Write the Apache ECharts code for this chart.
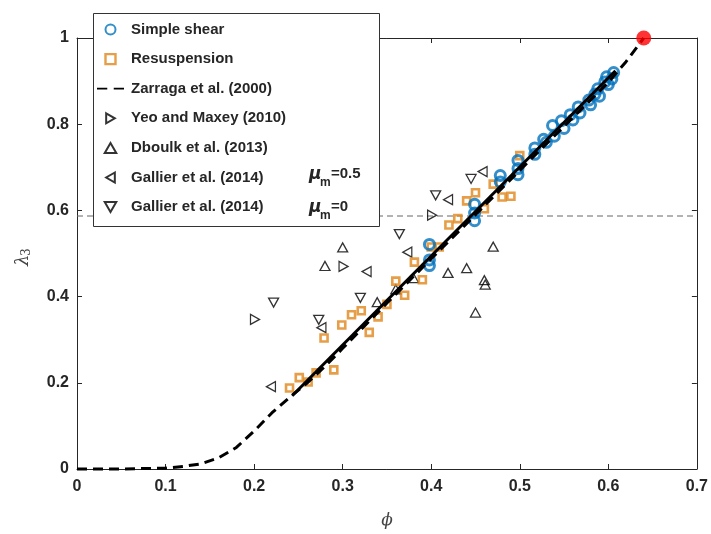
<!DOCTYPE html>
<html><head><meta charset="utf-8">
<script src="https://cdn.jsdelivr.net/npm/echarts@6/dist/echarts.min.js"></script>
<style>html,body{margin:0;padding:0;background:#fff}#c{width:711px;height:534px}</style>
</head><body><div id="c"></div>
<script>
// ---- data ----
const xTickMin = 0, xTickMax = 0.7, xTickStep = 0.1;
const yTickMin = 0, yTickMax = 1, yTickStep = 0.2;

const seriesNames = ['Simple shear','Resuspension','Zarraga et al. (2000)','Yeo and Maxey (2010)','Dboulk et al. (2013)','Gallier et al. (2014)','Gallier et al. (2014) '];

const shearPhi = [0.398,0.398,0.398,0.449,0.449,0.449,0.478,0.478,0.498,0.498,0.498,0.517,0.517,0.527,0.530,0.537,0.539,0.547,0.550,0.557,0.560,0.566,0.568,0.578,0.580,0.585,0.588,0.590,0.596,0.598,0.600,0.606,0.604];
const shearLam = [0.521,0.485,0.472,0.614,0.594,0.576,0.681,0.666,0.716,0.697,0.683,0.745,0.730,0.765,0.758,0.797,0.772,0.808,0.790,0.822,0.810,0.840,0.826,0.856,0.845,0.870,0.882,0.865,0.898,0.910,0.892,0.920,0.905];

const resPhi = [0.240,0.251,0.261,0.270,0.279,0.290,0.299,0.310,0.321,0.330,0.340,0.350,0.360,0.370,0.381,0.390,0.400,0.409,0.420,0.430,0.440,0.450,0.460,0.470,0.480,0.490,0.500];
const resLam = [0.188,0.212,0.202,0.223,0.304,0.230,0.334,0.358,0.367,0.317,0.353,0.382,0.436,0.403,0.480,0.439,0.515,0.515,0.566,0.581,0.622,0.641,0.604,0.661,0.631,0.633,0.727];

const zarPhi = [0,0.05,0.10,0.12,0.14,0.16,0.18,0.20,0.22,0.24,0.26,0.28,0.30,0.35,0.40,0.45,0.50,0.55,0.60,0.62,0.64];
const zarLam = [0,0,0.002,0.006,0.012,0.026,0.050,0.088,0.130,0.166,0.200,0.238,0.280,0.385,0.488,0.590,0.693,0.795,0.897,0.945,1.0];

const yeoPhi = [0.201,0.301,0.401];
const yeoLam = [0.347,0.470,0.589];

const dboPhi = [0.300,0.280,0.339,0.360,0.380,0.419,0.440,0.470,0.460,0.461,0.450];
const dboLam = [0.514,0.471,0.387,0.417,0.443,0.455,0.466,0.516,0.438,0.428,0.363];

const gal05Phi = [0.219,0.276,0.327,0.373,0.419,0.458];
const gal05Lam = [0.191,0.328,0.458,0.503,0.625,0.690];

const gal0Phi = [0.222,0.273,0.320,0.364,0.405,0.445];
const gal0Lam = [0.386,0.346,0.397,0.545,0.635,0.673];

const fitPhi = [0.243,0.608];
const fitLam = [0.170,0.924];

const rcpPhi = [0,0.7];
const rcpLam = [0.587,0.587];

const jamPhi = [0.64];
const jamLam = [1.0];

const muLabels = ['=0.5','=0'];

// ---- chart ----
const zip = (a,b) => a.map((v,i)=>[v,b[i]]);
const FONT = 'Liberation Sans, Arial, sans-serif';
const TXT = '#262626';
const triUp = 'path://M0,8.66L5,0L10,8.66Z';
const triDown = 'path://M0,0L10,0L5,8.66Z';
const triRight = 'path://M0,0L8.66,5L0,10Z';
const triLeft = 'path://M8.66,0L0,5L8.66,10Z';
const squarePath = 'path://M0,0L10,0L10,10L0,10Z';
const dashIcon = 'path://M0,0h9.5v1.6h-9.5zM15.5,0h9.5v1.6h-9.5z';
const triStyle = {color:'rgba(0,0,0,0)', borderColor:'#000', borderWidth:1.3};

const chart = echarts.init(document.getElementById('c'), null, {renderer:'canvas'});
const axisCommon = {
  type:'value', axisLine:{show:true, onZero:false, lineStyle:{color:TXT,width:1}},
  axisTick:{show:true, inside:true, length:5, lineStyle:{color:TXT,width:1}},
  splitLine:{show:false}
};
chart.setOption({
  animation:false,
  backgroundColor:'#fff',
  grid:{left:77, right:11, top:38, bottom:60},
  xAxis:[
    Object.assign({}, axisCommon, {min:xTickMin, max:xTickMax, interval:xTickStep, position:'bottom',
      axisLabel:{color:TXT, fontSize:16, fontWeight:'bold', fontFamily:FONT, margin:10},
      name:'\u03D5', nameLocation:'middle', nameGap:43,
      nameTextStyle:{fontFamily:'DejaVu Serif, serif', fontStyle:'italic', fontSize:17, color:'#444'}}),
    Object.assign({}, axisCommon, {min:xTickMin, max:xTickMax, interval:xTickStep, position:'top', axisLabel:{show:false}})
  ],
  yAxis:[
    Object.assign({}, axisCommon, {min:yTickMin, max:yTickMax, interval:yTickStep, position:'left',
      axisLabel:{color:TXT, fontSize:16, fontWeight:'bold', fontFamily:FONT, margin:8}}),
    Object.assign({}, axisCommon, {min:yTickMin, max:yTickMax, interval:yTickStep, position:'right', axisLabel:{show:false}})
  ],
  legend:{
    orient:'vertical', left:97, top:22, padding:0, itemWidth:27, itemHeight:10, itemGap:14.6, z:10,
    textStyle:{color:TXT, fontSize:15, fontWeight:'bold', fontFamily:FONT, padding:[0,0,0,2]},
    data:[
      {name:seriesNames[0]},
      {name:seriesNames[1], icon:squarePath, itemStyle:{color:'rgba(0,0,0,0)', borderColor:'#E0861A', borderWidth:2.4}},
      {name:seriesNames[2], icon:dashIcon, itemStyle:{color:'#000', borderWidth:0}},
      {name:seriesNames[3]},{name:seriesNames[4]},{name:seriesNames[5]},{name:seriesNames[6]}
    ]
  },
  graphic:[
    {type:'rect', z:8, shape:{x:93.5, y:13.5, width:286, height:213}, style:{fill:'#fff', stroke:'#333', lineWidth:1}},
    {type:'text', z:12, left:309, top:166, style:{text:'\u03BC', font:'italic bold 17px DejaVu Sans, sans-serif', fill:TXT}},
    {type:'text', z:12, left:320, top:177, style:{text:'m', font:'bold 12px '+FONT, fill:TXT}},
    {type:'text', z:12, left:331, top:166, style:{text:muLabels[0], font:'bold 15px '+FONT, fill:TXT}},
    {type:'text', z:12, left:309, top:199, style:{text:'\u03BC', font:'italic bold 17px DejaVu Sans, sans-serif', fill:TXT}},
    {type:'text', z:12, left:320, top:210, style:{text:'m', font:'bold 12px '+FONT, fill:TXT}},
    {type:'text', z:12, left:331, top:199, style:{text:muLabels[1], font:'bold 15px '+FONT, fill:TXT}},
    {type:'group', x:23, y:266, rotation:Math.PI/2, z:12, children:[
      {type:'text', x:0, y:0, style:{text:'\u03BB', font:'italic 18px DejaVu Serif, serif', fill:'#444', textVerticalAlign:'middle'}},
      {type:'text', x:10, y:4, style:{text:'3', font:'12px DejaVu Serif, serif', fill:'#444', textVerticalAlign:'middle'}}
    ]}
  ],
  series:[
    {name:'rcp', type:'line', data:zip(rcpPhi,rcpLam), symbol:'none', lineStyle:{color:'#666', width:1, type:[6,4]}, z:1, silent:true},
    {name:seriesNames[3], type:'scatter', data:zip(yeoPhi,yeoLam), symbol:triRight, symbolSize:[9,10], itemStyle:triStyle, z:2},
    {name:seriesNames[4], type:'scatter', data:zip(dboPhi,dboLam), symbol:triUp, symbolSize:[10,9], itemStyle:triStyle, z:2},
    {name:seriesNames[5], type:'scatter', data:zip(gal05Phi,gal05Lam), symbol:triLeft, symbolSize:[9,10], itemStyle:triStyle, z:2},
    {name:seriesNames[6], type:'scatter', data:zip(gal0Phi,gal0Lam), symbol:triDown, symbolSize:[10,9], itemStyle:triStyle, z:2},
    {name:seriesNames[1], type:'scatter', data:zip(resPhi,resLam), symbol:'rect', symbolSize:7, itemStyle:{color:'rgba(0,0,0,0)', borderColor:'#E0861A', borderWidth:2.6}, z:2},
    {name:seriesNames[0], type:'scatter', data:zip(shearPhi,shearLam), symbol:'circle', symbolSize:10, itemStyle:{color:'rgba(0,0,0,0)', borderColor:'#0072BD', borderWidth:3}, z:3},
    {name:'fit', type:'line', data:zip(fitPhi,fitLam), symbol:'none', itemStyle:{color:'#000'}, lineStyle:{color:'#000', width:3}, z:4, silent:true},
    {name:seriesNames[2], type:'line', data:zip(zarPhi,zarLam), symbol:'none', itemStyle:{color:'#000'}, lineStyle:{color:'#000', width:3, type:[10,6]}, z:4, silent:true, clip:false},
    {name:'jam', type:'scatter', data:zip(jamPhi,jamLam), symbol:'circle', symbolSize:15, itemStyle:{color:'#FF0000'}, z:5, clip:false}
  ]
});
</script></body></html>
